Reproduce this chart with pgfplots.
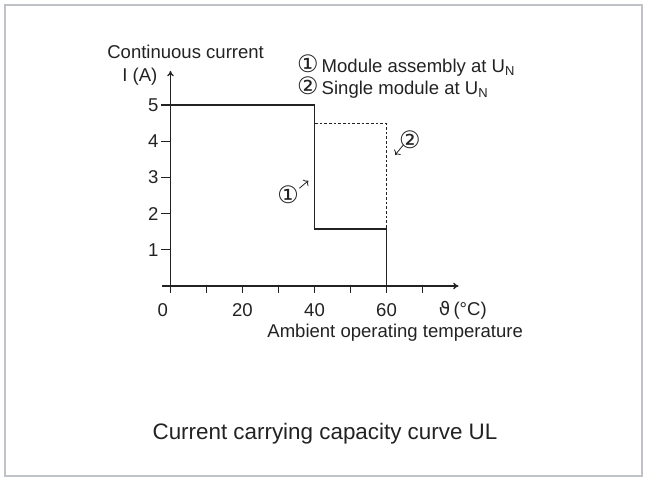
\documentclass[border=0pt]{standalone}
\usepackage{fontspec}
\setmainfont{Liberation Sans}
\newfontfamily\dejavu{DejaVu Sans}
\usepackage{pgfplots}
\pgfplotsset{compat=1.18}
\usetikzlibrary{arrows.meta}
\definecolor{ink}{HTML}{222222}
\definecolor{framec}{HTML}{BFC3C7}
\newcommand{\cnum}[1]{{\dejavu\fontsize{18}{18}\selectfont #1}}
\begin{document}
\fontsize{13.9}{16}\selectfont
\begin{tikzpicture}
\useasboundingbox (0pt,0pt) rectangle (485.25pt,360.75pt);
\draw[framec, line width=1.5pt] (3.75pt,3.75pt) rectangle (481.5pt,357pt);
\node[ink, font=\fontsize{16.8}{20}\selectfont] at (243.75pt,35.25pt) {Current carrying capacity curve UL};
\begin{axis}[
  at={(127.875pt,146.25pt)}, anchor=origin,
  x=2.7pt, y=27.15pt,
  xmin=-2.3, xmax=80, ymin=-0.2, ymax=5.94,
  axis lines=middle,
  axis line style={ink, line width=1pt, -{To[length=4pt,width=5pt]}},
  tick align=outside,
  tick style={ink, line width=1pt},
  hide obscured x ticks=false,
  hide obscured y ticks=false,
  xtick={0,10,...,70},
  xticklabels={\llap{0\hspace{1.9pt}},,20,,40,,60,},
  ytick={1,2,3,4,5},
  xtick style={/pgfplots/major tick length=5.25pt},
  ytick style={/pgfplots/major tick length=6.75pt},
  /pgf/number format/assume math mode=true,
  ticklabel style={ink, font=\fontsize{13.9}{16}\selectfont},
  xticklabel style={yshift=-4pt},
  clip=false,
]
\addplot[ink, line width=1pt] coordinates {(0,5) (40,5) (40,1.57) (60,1.57) (60,0)};
\addplot[ink, line width=1pt, dash pattern=on 2pt off 1.5pt] coordinates {(0,5) (40,5) (40,4.48) (60,4.48) (60,1.57)};
\node[ink] at (axis cs:81.2,-0.665) {{\dejavu ϑ}\,(°C)};
\node[ink] at (axis cs:4.2,6.46) {Continuous current};
\node[ink] at (axis cs:-8.5,5.79) {I (A)};
\node[ink, anchor=west, inner sep=0pt] at (axis cs:35.1,6.08) {\cnum{①}\,Module assembly at U\textsubscript{N}};
\node[ink, anchor=west, inner sep=0pt] at (axis cs:35.1,5.47) {\cnum{②}\,Single module at U\textsubscript{N}};
\node[ink] at (axis cs:62.4,-1.30) {Ambient operating temperature};
\node[ink, inner sep=0pt] at (axis cs:32.7,2.51) {\cnum{①}};
\draw[ink, line width=0.6pt, -{To[length=3pt]}] (axis cs:35.8,2.70) -- (axis cs:38.3,2.91);
\node[ink, inner sep=0pt] at (axis cs:66.5,4.03) {\cnum{②}};
\draw[ink, line width=0.6pt, -{To[length=3pt]}] (axis cs:64.7,3.90) -- (axis cs:62.4,3.62);
\end{axis}
\end{tikzpicture}
\end{document}
